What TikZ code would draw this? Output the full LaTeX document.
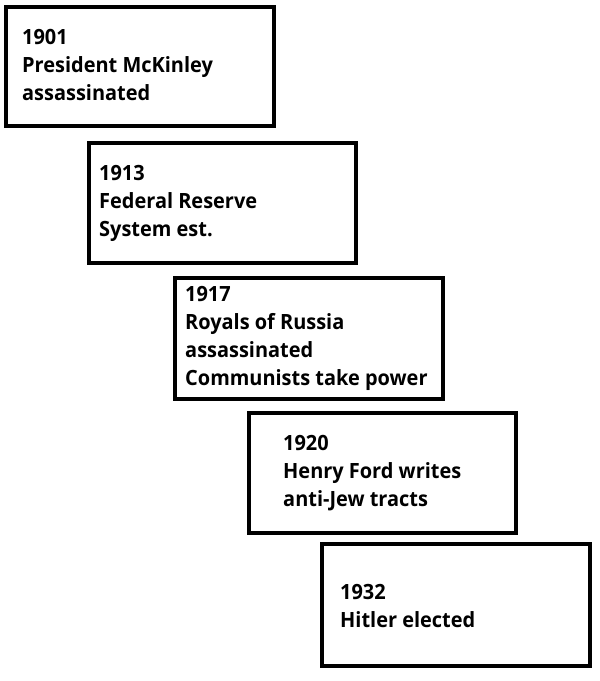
\documentclass[tikz,border=0pt]{standalone}
\usepackage{fontspec}
\setmainfont{Open Sans}[FakeStretch=0.95]
\begin{document}
\begin{tikzpicture}[x=1pt,y=-1pt,
  evbox/.style={draw=black, line width=4pt, fill=white},
  evtext/.style={anchor=base west, align=left, inner sep=0pt,
    font=\bfseries\fontsize{21}{28}\selectfont}]
\useasboundingbox[fill=white] (0,0) rectangle (600,681);
\draw[evbox] (6,7) rectangle (274,126);
\node[evtext] (t1) at (22,100) {1901\\President McKinley\\assassinated};
\draw[evbox] (89,143) rectangle (356,263);
\node[evtext] (t2) at (99,236) {1913\\Federal Reserve\\System est.};
\draw[evbox] (174.5,278) rectangle (443,399);
\node[evtext] (t3) at (185,385) {1917\\Royals of Russia\\assassinated\\Communists take power};
\draw[evbox] (249,413) rectangle (516,533);
\node[evtext] (t4) at (283,506) {1920\\Henry Ford writes\\anti-Jew tracts};
\draw[evbox] (322,544) rectangle (590,666);
\node[evtext] (t5) at (340,627) {1932\\Hitler elected};
\end{tikzpicture}
\end{document}
